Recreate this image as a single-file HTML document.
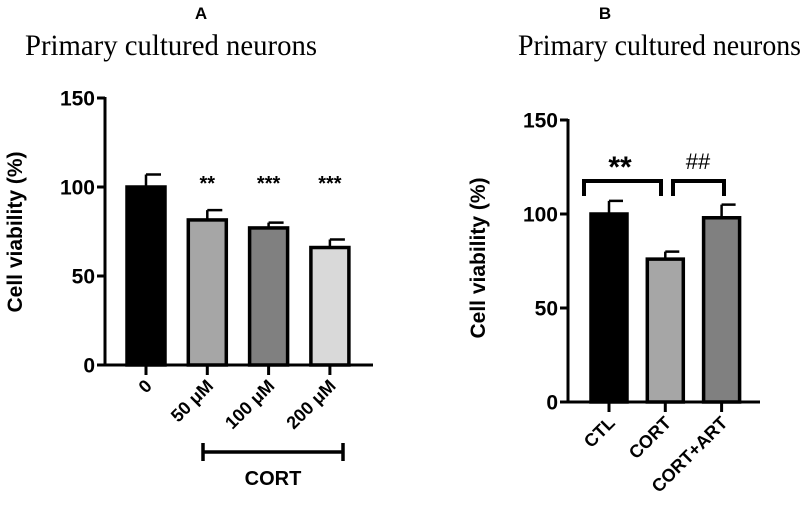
<!DOCTYPE html>
<html><head><meta charset="utf-8"><style>
html,body{margin:0;padding:0;background:#fff;}
svg{display:block;font-family:"Liberation Sans",Arial,sans-serif;}
</style></head><body>
<svg id="chart" width="803" height="514" viewBox="0 0 803 514" xmlns="http://www.w3.org/2000/svg">
<text x="201" y="19" font-size="17" font-weight="bold" text-anchor="middle">A</text>
<text x="25" y="55" font-size="30" font-family="Liberation Serif,serif" textLength="292" lengthAdjust="spacingAndGlyphs">Primary cultured  neurons</text>
<text x="605" y="19" font-size="17" font-weight="bold" text-anchor="middle">B</text>
<text x="518" y="55" font-size="30" font-family="Liberation Serif,serif" textLength="283" lengthAdjust="spacingAndGlyphs">Primary cultured  neurons</text>
<g id="ga"></g>
<g id="gb"></g>
</svg>
<script>
const catsA = ["0","50 μM","100 μM","200 μM"];
const valsA = [100, 81.5, 77, 66];
const errA = [7, 5.5, 3, 4.5];
const colorsA = ["#000","#a6a6a6","#808080","#d9d9d9"];
const starsA = ["","**","***","***"];
const catsB = ["CTL","CORT","CORT+ART"];
const valsB = [100, 76, 98];
const errB = [7, 4, 7];
const colorsB = ["#000","#a6a6a6","#808080"];
const ticks = [0,50,100,150];
const NS="http://www.w3.org/2000/svg";
function mk(p,tag,attrs,txt){const e=document.createElementNS(NS,tag);for(const k in attrs)e.setAttribute(k,attrs[k]);if(txt!==undefined)e.textContent=txt;p.appendChild(e);return e;}
function panel(g,o,cats,vals,errs,cols){
  const y=v=>o.y0-(v/150)*(o.y0-o.y150);
  const x=i=>o.x0+o.first+i*o.step;
  const ax=mk(g,'line',{x1:o.ax,y1:o.y150-1,x2:o.ax,y2:o.y0+1.5,stroke:'#000','stroke-width':3});
  
  const bx=mk(g,'line',{x1:o.ax-1.5,y1:o.y0,x2:o.xend,y2:o.y0,stroke:'#000','stroke-width':3});
  
  ticks.forEach(t=>{
    const tl=mk(g,'line',{x1:o.ax-8,y1:y(t),x2:o.ax,y2:y(t),stroke:'#000','stroke-width':3});
    
    const tt=mk(g,'text',{x:o.ax-10,y:y(t)+7.5,'font-size':21,'font-weight':'bold','text-anchor':'end'},String(t));
    
  });
  const yt=mk(g,'text',{x:0,y:0,'font-size':21,'font-weight':'bold','text-anchor':'middle',transform:`translate(${o.ytx},${o.yty}) rotate(-90)`},'Cell viability (%)');
  
  cats.forEach((c,i)=>{
    const cx=x(i),hw=o.bw/2;
    const eb=mk(g,'path',{d:`M${cx} ${y(vals[i])} V${y(vals[i]+errs[i])} M${cx} ${y(vals[i]+errs[i])} H${cx+hw-4}`,stroke:'#000','stroke-width':2.5,fill:'none'});
    
    const r=mk(g,'rect',{x:cx-hw,y:y(vals[i]),width:o.bw,height:o.y0-y(vals[i]),fill:cols[i],stroke:'#000','stroke-width':3.5});
    
    const tk=mk(g,'line',{x1:cx,y1:o.y0,x2:cx,y2:o.y0+10,stroke:'#000','stroke-width':3});
    
    const lb=mk(g,'text',{x:0,y:0,'font-size':18,'font-weight':'bold','text-anchor':'end',transform:`translate(${cx+7},${o.y0+22}) rotate(-45)`},c);
    
  });
  return {x,y};
}
const ga=document.getElementById('ga');
const A=panel(ga,{ax:105,x0:105,first:41,step:61.3,bw:38,y0:365,y150:98,xend:373,ytx:22,yty:232},catsA,valsA,errA,colorsA);
starsA.forEach((s,i)=>{if(!s)return;
  const t=mk(ga,'text',{x:A.x(i),y:190,'font-size':20,'font-weight':'bold','text-anchor':'middle'},s);
  
  
});
const cb=mk(ga,'path',{d:'M203 443 V461 M203 452 H343 M343 443 V461',stroke:'#000','stroke-width':3.5,fill:'none'});

const ct=mk(ga,'text',{x:273,y:485,'font-size':20,'font-weight':'bold','text-anchor':'middle'},'CORT');

const gb=document.getElementById('gb');
const B=panel(gb,{ax:568,x0:568,first:41,step:56.3,bw:36,y0:402,y150:120,xend:760,ytx:485,yty:258},catsB,valsB,errB,colorsB);
const br1=mk(gb,'path',{d:'M584 196 V181 H661 V196',stroke:'#000','stroke-width':4,fill:'none'});

const br2=mk(gb,'path',{d:'M673 196 V181 H724 V196',stroke:'#000','stroke-width':4,fill:'none'});

const s1=mk(gb,'text',{x:620,y:177,'font-size':30,'font-weight':'bold','text-anchor':'middle'},'**');

const s2=mk(gb,'text',{x:698,y:169,'font-size':22,'text-anchor':'middle'},'##');

</script>
</body></html>
